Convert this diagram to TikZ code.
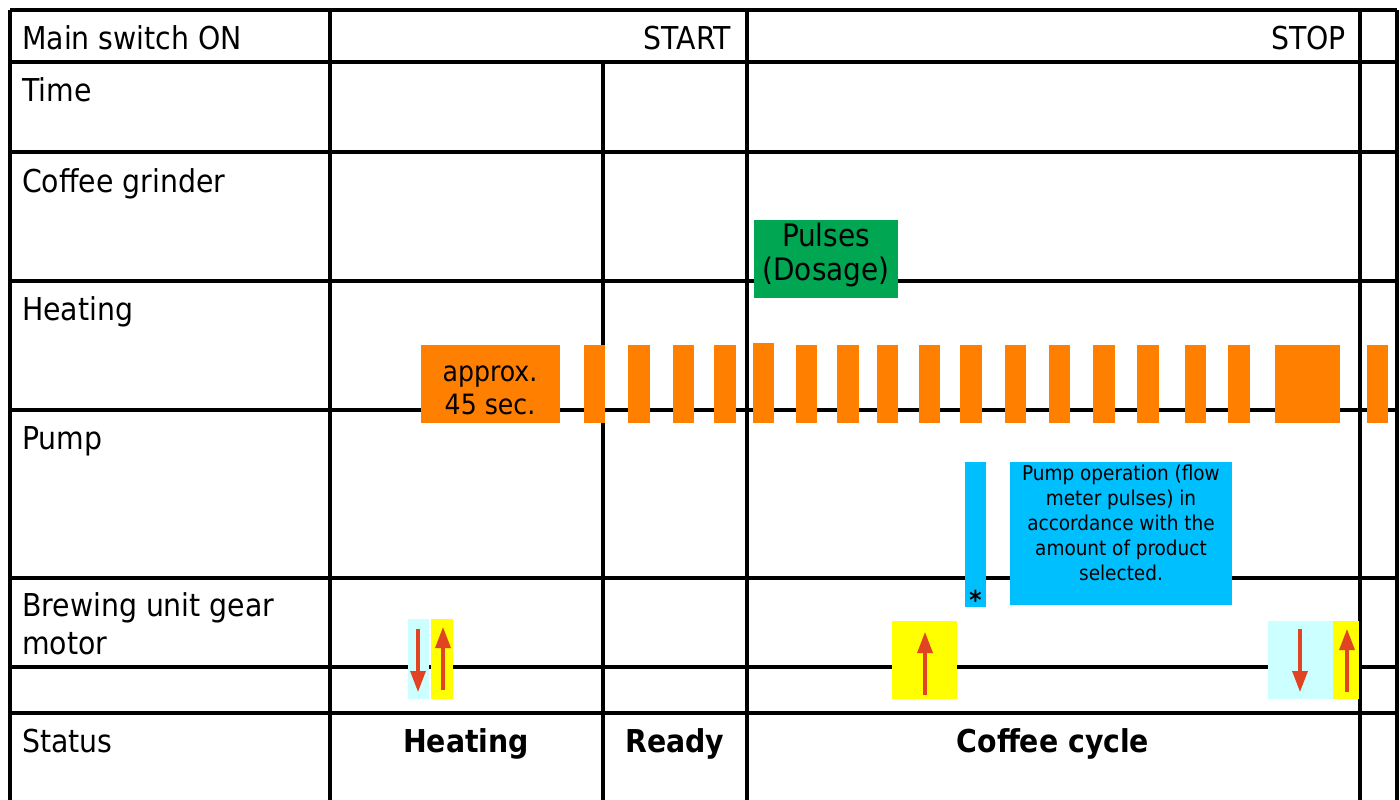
\documentclass[tikz,border=0pt]{standalone}
\usepackage{fontspec}
\setmainfont{DejaVu Sans Condensed}
\usetikzlibrary{arrows.meta}
\definecolor{heatorange}{HTML}{FF7F00}
\definecolor{grindgreen}{HTML}{00A651}
\definecolor{pumpblue}{HTML}{00BFFF}
\definecolor{motorcyan}{HTML}{CCFFFF}
\definecolor{motoryellow}{HTML}{FFFF00}
\definecolor{arrowred}{HTML}{E04422}
\begin{document}
\begin{tikzpicture}[x=1pt,y=-1pt,
  gridline/.style={line width=3.3pt, black},
  lbl/.style={anchor=base west, inner sep=0pt, font=\fontsize{31.5}{34}\selectfont},
  rlbl/.style={anchor=base east, inner sep=0pt, font=\fontsize{31.5}{34}\selectfont},
  status/.style={anchor=base, inner sep=0pt, font=\fontsize{31.5}{34}\selectfont\bfseries},
  boxtext/.style={anchor=base, inner sep=0pt, align=center, font=\fontsize{31}{34}\selectfont},
  smalltext/.style={anchor=base, inner sep=0pt, align=center, font=\fontsize{20.5}{25}\selectfont},
  bar/.style={anchor=north west, inner sep=0pt, outer sep=0pt, draw=none},
  motorarrow/.style={draw=arrowred, line width=3.2pt, -{Triangle[length=21pt,width=15pt]}}
]
\useasboundingbox (0,0) rectangle (1400,800);
\fill[white] (0,0) rectangle (1400,800);

% grid
\foreach \yy in {10,62,152,281,410,578,667,713}
  \draw[gridline] (10,\yy) -- (1397,\yy);
\draw[gridline] (10,10) -- (10,800);
\draw[gridline] (330,10) -- (330,800);
\draw[gridline] (603,62) -- (603,800);
\draw[gridline] (747,10) -- (747,800);
\draw[gridline] (1360,10) -- (1360,800);
\draw[gridline] (1397,10) -- (1397,800);

% row labels
\node[lbl] (lmain) at (22,49) {Main switch ON};
\node[rlbl] (lstart) at (731,49) {START};
\node[rlbl] (lstop) at (1346,49) {STOP};
\node[lbl] (ltime) at (22,101) {Time};
\node[lbl] (lgrind) at (22,192) {Coffee grinder};
\node[lbl] (lheat) at (22,320) {Heating};
\node[lbl] (lpump) at (22,449) {Pump};
\node[lbl, align=left, font=\fontsize{31.5}{38}\selectfont] (lbrew) at (22,654) {Brewing unit gear\\motor};
\node[lbl] (lstatus) at (22,752) {Status};

% status
\node[status] (sheat) at (466,752) {Heating};
\node[status] (sready) at (675,752) {Ready};
\node[status] (scycle) at (1053,752) {Coffee cycle};

% coffee grinder
\node[bar, fill=grindgreen, minimum width=144, minimum height=78] (grind) at (754,220) {};
\node[boxtext] (grindtxt) at (826,280) {Pulses\\(Dosage)};

% heating
\node[bar, fill=heatorange, minimum width=139, minimum height=78] (heat0) at (421,345) {};
\node[boxtext, font=\fontsize{28}{33}\selectfont] (heattxt) at (490,414) {approx.\\45 sec.};
\foreach \xa/\xb [count=\i] in {584/605,628/650,673/694,714/736,796/817,837/859,877/898,919/940,960/982,1005/1026,1049/1070,1093/1115,1137/1159,1185/1206,1228/1250,1275/1340,1367/1388}
  \node[bar, fill=heatorange, minimum width={\xb-\xa}, minimum height=78] (heat\i) at (\xa,345) {};
\node[bar, fill=heatorange, minimum width=21, minimum height=80] (heatst) at (753,343) {};

% pump
\node[bar, fill=pumpblue, minimum width=21, minimum height=145] (pumpbar) at (965,462) {};
\node[inner sep=0pt, font=\fontsize{26}{26}\selectfont\bfseries] (star) at (975.5,600) {*};
\node[bar, fill=pumpblue, minimum width=222, minimum height=143] (pumpbox) at (1010,462) {};
\node[smalltext] (pumptxt) at (1121,580) {Pump operation (flow\\meter pulses) in\\accordance with the\\amount of product\\selected.};

% brewing unit gear motor
\node[bar, fill=motorcyan, minimum width=21.5, minimum height=80] (m1) at (407.5,619) {};
\node[bar, fill=motoryellow, minimum width=22, minimum height=80] (m2) at (431,619) {};
\node[bar, fill=motoryellow, minimum width=65, minimum height=78] (m3) at (892,621) {};
\node[bar, fill=motorcyan, minimum width=65.5, minimum height=78] (m4) at (1267.5,621) {};
\node[bar, fill=motoryellow, minimum width=25.5, minimum height=78] (m5) at (1333,621) {};

\coordinate (a1s) at (418,629);  \coordinate (a1e) at (418,692);
\coordinate (a2s) at (443,690);  \coordinate (a2e) at (443,627);
\coordinate (a3s) at (925,695);  \coordinate (a3e) at (925,632);
\coordinate (a4s) at (1300,629); \coordinate (a4e) at (1300,692);
\coordinate (a5s) at (1347,692); \coordinate (a5e) at (1347,629);
\draw[motorarrow] (a1s) -- (a1e);
\draw[motorarrow] (a2s) -- (a2e);
\draw[motorarrow] (a3s) -- (a3e);
\draw[motorarrow] (a4s) -- (a4e);
\draw[motorarrow] (a5s) -- (a5e);
\end{tikzpicture}
\end{document}
